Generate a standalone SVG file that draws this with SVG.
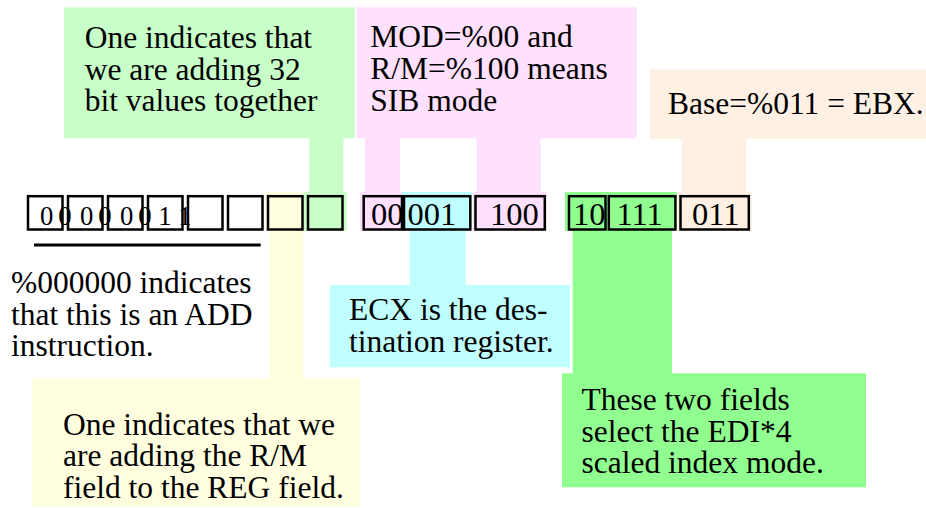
<svg xmlns="http://www.w3.org/2000/svg" width="926" height="508" viewBox="0 0 926 508">
<style>
text{font-family:"Liberation Serif","Times New Roman",serif;fill:#000}
.lbl{font-size:31.5px}
.bit{font-size:26.7px;text-anchor:middle}
.fld{font-size:32.5px}
.box{fill:none;stroke:#000;stroke-width:2.5}
.g1{fill:#C8FFC8}
.pk{fill:#FFE0FF}
.pe{fill:#FFF0E4}
.cy{fill:#C0FFFF}
.ye{fill:#FFFFE0}
.g2{fill:#90FF90}
</style>
<rect width="926" height="508" fill="#fff"/>
<g id="connectors">
  <rect class="g1" x="309.3" y="137" width="34" height="56"/>
  <rect class="g1" x="303.3" y="192" width="43.4" height="39"/>
  <rect class="ye" x="265" y="192" width="38.3" height="39"/>
  <rect class="ye" x="269.3" y="230" width="34" height="149"/>
  <rect class="pk" x="365" y="137" width="35" height="56"/>
  <rect class="pk" x="476.7" y="137" width="64" height="56"/>
  <rect class="pk" x="360" y="192" width="42" height="39"/>
  <rect class="pk" x="473" y="192" width="73.7" height="39"/>
  <rect class="cy" x="402" y="192" width="70" height="39"/>
  <rect class="cy" x="410" y="230" width="55.7" height="56"/>
  <rect class="g2" x="565" y="192" width="111.7" height="39"/>
  <rect class="g2" x="572.7" y="230" width="99.3" height="144"/>
  <rect class="pe" x="681.7" y="138" width="64.3" height="55"/>
  <rect class="pe" x="678" y="192" width="73.7" height="39"/>
</g>
<g id="label-32bit">
  <rect class="g1" x="64" y="7.3" width="291" height="131"/>
  <text class="lbl" x="84.7" y="48"><tspan>One indicates that</tspan><tspan x="84.7" y="79.6">we are adding 32</tspan><tspan x="84.7" y="111.2">bit values together</tspan></text>
</g>
<g id="label-sib">
  <rect class="pk" x="356.7" y="7.3" width="280" height="131"/>
  <text class="lbl" x="370.3" y="47.4"><tspan>MOD=%00 and</tspan><tspan x="370.3" y="79.3">R/M=%100 means</tspan><tspan x="370.3" y="111.2">SIB mode</tspan></text>
</g>
<g id="label-base">
  <rect class="pe" x="650" y="69.3" width="276" height="69.7"/>
  <text class="lbl" x="668" y="114.3">Base=%011 = EBX.</text>
</g>
<g id="opcode-bits">
  <rect class="box" x="28" y="196.2" width="34.5" height="33.3"/>
  <rect class="box" x="68" y="196.2" width="34.5" height="33.3"/>
  <rect class="box" x="108" y="196.2" width="34.5" height="33.3"/>
  <rect class="box" x="148" y="196.2" width="34.5" height="33.3"/>
  <rect class="box" x="188" y="196.2" width="34.5" height="33.3"/>
  <rect class="box" x="228" y="196.2" width="34.5" height="33.3"/>
  <rect class="box" x="268" y="196.2" width="34.5" height="33.3"/>
  <rect class="box" x="308" y="196.2" width="34.5" height="33.3"/>
  <text class="bit" x="46.7" y="225">0</text>
  <text class="bit" x="65" y="225">0</text>
  <text class="bit" x="86.7" y="225">0</text>
  <text class="bit" x="105" y="225">0</text>
  <text class="bit" x="126.7" y="225">0</text>
  <text class="bit" x="145" y="225">0</text>
  <text class="bit" x="165" y="225">1</text>
  <text class="bit" x="185" y="225">1</text>
</g>
<g id="modrm-fields">
  <rect class="box" x="363.7" y="196.2" width="38.3" height="33.3"/>
  <rect class="box" x="404" y="196.2" width="66.3" height="33.3"/>
  <rect class="box" x="475.5" y="196.2" width="69.3" height="33.3"/>
  <text class="fld" x="371" y="224.5">00</text>
  <text class="fld" x="407.5" y="224.5">001</text>
  <text class="fld" x="490" y="224.5">100</text>
</g>
<g id="sib-fields">
  <rect class="box" x="569" y="196.2" width="36.5" height="33.3"/>
  <rect class="box" x="608.8" y="196.2" width="66.6" height="33.3"/>
  <rect class="box" x="680.5" y="196.2" width="68.3" height="33.3"/>
  <text class="fld" x="573" y="224.5">10</text>
  <text class="fld" x="616.5" y="224.5">111</text>
  <text class="fld" x="692" y="224.5">011</text>
</g>
<g id="label-add">
  <line x1="34" y1="245" x2="260.7" y2="245" stroke="#000" stroke-width="3"/>
  <text class="lbl" x="11" y="293"><tspan>%000000 indicates</tspan><tspan x="11" y="324.7">that this is an ADD</tspan><tspan x="11" y="356.4">instruction.</tspan></text>
</g>
<g id="label-direction">
  <rect class="ye" x="31.7" y="378.3" width="328.3" height="128.4"/>
  <text class="lbl" x="63" y="434.5"><tspan>One indicates that we</tspan><tspan x="63" y="466.2">are adding the R/M</tspan><tspan x="63" y="497.9">field to the REG field.</tspan></text>
</g>
<g id="label-ecx">
  <rect class="cy" x="330" y="285" width="240" height="82.3"/>
  <text class="lbl" x="349" y="320"><tspan>ECX is the des-</tspan><tspan x="349" y="351.7">tination register.</tspan></text>
</g>
<g id="label-index">
  <rect class="g2" x="562" y="373.3" width="304" height="114"/>
  <text class="lbl" x="581.5" y="410"><tspan>These two fields</tspan><tspan x="581.5" y="441.7">select the EDI*4</tspan><tspan x="581.5" y="473.4">scaled index mode.</tspan></text>
</g>
</svg>
